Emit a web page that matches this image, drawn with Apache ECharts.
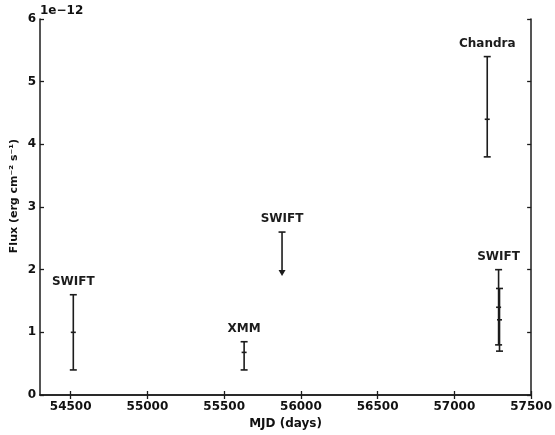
<!DOCTYPE html>
<html>
<head>
<meta charset="utf-8">
<script src="https://cdn.jsdelivr.net/npm/echarts@6/dist/echarts.min.js"></script>
<style>
  html, body { margin: 0; padding: 0; background: #fff; }
  #chart { width: 555px; height: 435px; }
</style>
</head>
<body>
<div id="chart"></div>
<script>
// Detections: MJD, flux (1e-12 erg cm^-2 s^-1) with lower/upper error bounds
const mjd       = [54517, 55630, 57214, 57288, 57294];
const flux      = [1.0,   0.68,  4.4,   1.4,   1.2];
const fluxLow   = [0.4,   0.4,   3.8,   0.8,   0.7];
const fluxHigh  = [1.6,   0.85,  5.4,   2.0,   1.7];
const obsLabel  = ['SWIFT', 'XMM', 'Chandra', 'SWIFT', ''];

// Upper limit (arrow pointing down from the limit)
const limMjd    = [55877];
const limFlux   = [2.6];
const limArrow  = [1.9];
const limLabel  = ['SWIFT'];

// Axis ticks
const xTicks = [54500, 55000, 55500, 56000, 56500, 57000, 57500];
const yTicks = [0, 1, 2, 3, 4, 5, 6];

const INK = '#1c1c1c';
const FONT = 'DejaVu Sans';

const chart = echarts.init(document.getElementById('chart'), null, { renderer: 'canvas' });

function labelEl(text, p) {
  return {
    type: 'text',
    style: {
      text: text, x: p[0], y: p[1] - 13,
      align: 'center', verticalAlign: 'middle',
      font: 'bold 12px "' + FONT + '"', fill: INK
    }
  };
}

function renderErrorBar(params, api) {
  const x = api.value(0);
  const top = api.coord([x, api.value(3)]);
  const bot = api.coord([x, api.value(2)]);
  const mid = api.coord([x, api.value(1)]);
  const cap = 3.5;
  const ls = { stroke: INK, lineWidth: 1.6 };
  const children = [
    { type: 'line', shape: { x1: top[0], y1: top[1], x2: bot[0], y2: bot[1] }, style: ls },
    { type: 'line', shape: { x1: top[0] - cap, y1: top[1], x2: top[0] + cap, y2: top[1] }, style: ls },
    { type: 'line', shape: { x1: bot[0] - cap, y1: bot[1], x2: bot[0] + cap, y2: bot[1] }, style: ls },
    { type: 'line', shape: { x1: mid[0] - 2.5, y1: mid[1], x2: mid[0] + 2.5, y2: mid[1] }, style: ls }
  ];
  const txt = obsLabel[params.dataIndex];
  if (txt) children.push(labelEl(txt, top));
  return { type: 'group', children: children };
}

function renderLimit(params, api) {
  const x = api.value(0);
  const top = api.coord([x, api.value(1)]);
  const tip = api.coord([x, api.value(2)]);
  const cap = 3.5, head = 6;
  const ls = { stroke: INK, lineWidth: 1.6 };
  return {
    type: 'group',
    children: [
      { type: 'line', shape: { x1: top[0], y1: top[1], x2: tip[0], y2: tip[1] - head }, style: ls },
      { type: 'line', shape: { x1: top[0] - cap, y1: top[1], x2: top[0] + cap, y2: top[1] }, style: ls },
      { type: 'polygon', shape: { points: [[tip[0] - 3.5, tip[1] - head], [tip[0] + 3.5, tip[1] - head], [tip[0], tip[1]]] }, style: { fill: INK } },
      labelEl(limLabel[params.dataIndex], top)
    ]
  };
}

const axisLine = { show: true, lineStyle: { color: INK, width: 1.5 } };
const tickStyle = { lineStyle: { color: INK, width: 1.3 } };
const labelStyle = { color: '#111', fontFamily: FONT, fontWeight: 'bold', fontSize: 12, formatter: v => String(v) };

const option = {
  backgroundColor: '#fff',
  animation: false,
  grid: { left: 40, right: 22, top: 19, bottom: 36 },
  xAxis: [
    {
      type: 'value', min: 54300, max: 57500, position: 'bottom',
      axisLine: axisLine,
      axisTick: Object.assign({ show: true, inside: true, length: 4, customValues: xTicks }, tickStyle),
      axisLabel: Object.assign({ show: true, margin: 6, customValues: xTicks }, labelStyle),
      splitLine: { show: false },
      name: 'MJD (days)', nameLocation: 'middle', nameGap: 23,
      nameTextStyle: { color: '#111', fontFamily: FONT, fontWeight: 'bold', fontSize: 12 }
    },
    {
      type: 'value', min: 54300, max: 57500, position: 'top',
      axisLine: axisLine,
      axisTick: Object.assign({ show: true, inside: true, length: 4, customValues: xTicks }, tickStyle),
      axisLabel: { show: false },
      splitLine: { show: false }
    }
  ],
  yAxis: [
    {
      type: 'value', min: 0, max: 6, interval: 1, position: 'left',
      axisLine: axisLine,
      axisTick: Object.assign({ show: true, inside: true, length: 4, customValues: yTicks }, tickStyle),
      axisLabel: Object.assign({ show: true, margin: 4, customValues: yTicks }, labelStyle),
      splitLine: { show: false }
    },
    {
      type: 'value', min: 0, max: 6, interval: 1, position: 'right',
      axisLine: axisLine,
      axisTick: Object.assign({ show: true, inside: true, length: 4, customValues: yTicks }, tickStyle),
      axisLabel: { show: false },
      splitLine: { show: false }
    }
  ],
  graphic: [
    {
      type: 'text', x: 14, y: 196, rotation: Math.PI / 2,
      style: {
        text: 'Flux (erg cm\u207B\u00B2 s\u207B\u00B9)',
        align: 'center', verticalAlign: 'middle',
        font: 'bold 11px "' + FONT + '"', fill: '#111'
      }
    },
    {
      type: 'text', x: 40, y: 11,
      style: {
        text: '1e\u221212', align: 'left', verticalAlign: 'middle',
        font: 'bold 12px "' + FONT + '"', fill: '#111'
      }
    }
  ],
  series: [
    {
      type: 'custom', name: 'detections',
      xAxisIndex: 0, yAxisIndex: 0,
      renderItem: renderErrorBar,
      encode: { x: 0, y: [1, 2, 3] },
      data: mjd.map((m, i) => [m, flux[i], fluxLow[i], fluxHigh[i]]),
      clip: false, z: 3
    },
    {
      type: 'custom', name: 'upper limits',
      xAxisIndex: 0, yAxisIndex: 0,
      renderItem: renderLimit,
      encode: { x: 0, y: [1, 2] },
      data: limMjd.map((m, i) => [m, limFlux[i], limArrow[i]]),
      clip: false, z: 3
    }
  ]
};

chart.setOption(option);
</script>
</body>
</html>
